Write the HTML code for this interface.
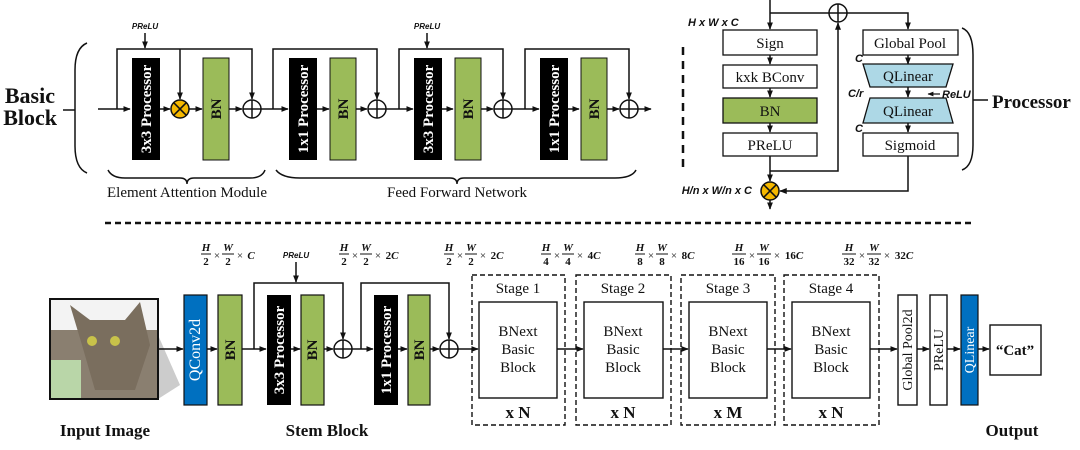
<!DOCTYPE html>
<html><head><meta charset="utf-8"><style>
html,body{margin:0;padding:0;background:#fff;}
svg{display:block;}
.s{font-family:"Liberation Serif",serif;}
.a{font-family:"Liberation Sans",sans-serif;}
</style></head><body>
<svg width="1080" height="450" viewBox="0 0 1080 450" xmlns="http://www.w3.org/2000/svg">
<defs>
<marker id="ar" viewBox="0 0 10 10" refX="9" refY="5" markerWidth="5" markerHeight="5" orient="auto"><path d="M0,1 L10,5 L0,9 z" fill="#111"/></marker>
<g id="plus"><circle r="9" fill="#fff" stroke="#111" stroke-width="1.5"/><path d="M-9,0H9M0,-9V9" stroke="#111" stroke-width="1.5"/></g>
<g id="times"><circle r="9" fill="#f5b800" stroke="#111" stroke-width="1.5"/><path d="M-6.3,-6.3L6.3,6.3M-6.3,6.3L6.3,-6.3" stroke="#111" stroke-width="1.5"/></g>
</defs>
<g stroke="#111" stroke-width="1.5" fill="none">
<!-- ===== Basic block ===== -->
<path d="M63,110H75"/>
<path d="M87,43 Q75,48 75,70 V146 Q75,168 87,173"/>
<path d="M98,109H130" marker-end="url(#ar)"/>
<path d="M160,109H170" marker-end="url(#ar)"/>
<path d="M189,109H202" marker-end="url(#ar)"/>
<path d="M229,109H242" marker-end="url(#ar)"/>
<path d="M261,109H288" marker-end="url(#ar)"/>
<path d="M317,109H329" marker-end="url(#ar)"/>
<path d="M356,109H367" marker-end="url(#ar)"/>
<path d="M386,109H413" marker-end="url(#ar)"/>
<path d="M442,109H453" marker-end="url(#ar)"/>
<path d="M481,109H493" marker-end="url(#ar)"/>
<path d="M512,109H539" marker-end="url(#ar)"/>
<path d="M568,109H579" marker-end="url(#ar)"/>
<path d="M607,109H619" marker-end="url(#ar)"/>
<path d="M638,109H651" marker-end="url(#ar)"/>
<path d="M117,109V49H252V99" marker-end="url(#ar)"/>
<path d="M180,49V99" marker-end="url(#ar)"/>
<path d="M145,33V48" marker-end="url(#ar)"/>
<path d="M273,109V49H377V99" marker-end="url(#ar)"/>
<path d="M399,109V49H503V99" marker-end="url(#ar)"/>
<path d="M427,33V48" marker-end="url(#ar)"/>
<path d="M525,109V49H629V99" marker-end="url(#ar)"/>
<!-- braces -->
<path d="M108,170 Q112,178 125,178 H180 Q187,178 187,184 Q187,178 194,178 H250 Q262,178 265,170"/>
<path d="M276,170 Q282,178 300,178 H450 Q457,178 457,184 Q457,178 464,178 H615 Q632,178 636,170"/>
</g>
<rect x="132" y="58" width="28" height="102" fill="#000"/>
<rect x="203" y="58" width="26" height="102" fill="#9bbb59" stroke="#111" stroke-width="1"/>
<rect x="289" y="58" width="28" height="102" fill="#000"/>
<rect x="330" y="58" width="26" height="102" fill="#9bbb59" stroke="#111" stroke-width="1"/>
<rect x="414" y="58" width="28" height="102" fill="#000"/>
<rect x="455" y="58" width="26" height="102" fill="#9bbb59" stroke="#111" stroke-width="1"/>
<rect x="540" y="58" width="28" height="102" fill="#000"/>
<rect x="581" y="58" width="26" height="102" fill="#9bbb59" stroke="#111" stroke-width="1"/>
<g class="s" font-size="15" font-weight="bold" text-anchor="middle">
<text transform="translate(151,109) rotate(-90)" fill="#fff">3x3 Processor</text>
<text transform="translate(221,109) rotate(-90)" fill="#111">BN</text>
<text transform="translate(308,109) rotate(-90)" fill="#fff">1x1 Processor</text>
<text transform="translate(348,109) rotate(-90)" fill="#111">BN</text>
<text transform="translate(433,109) rotate(-90)" fill="#fff">3x3 Processor</text>
<text transform="translate(473,109) rotate(-90)" fill="#111">BN</text>
<text transform="translate(559,109) rotate(-90)" fill="#fff">1x1 Processor</text>
<text transform="translate(599,109) rotate(-90)" fill="#111">BN</text>
</g>
<use href="#times" x="180" y="109"/>
<use href="#plus" x="252" y="109"/>
<use href="#plus" x="377" y="109"/>
<use href="#plus" x="503" y="109"/>
<use href="#plus" x="629" y="109"/>
<g class="a" font-size="8" font-style="italic" font-weight="bold" text-anchor="middle" fill="#111">
<text x="145" y="29">PReLU</text><text x="427" y="29">PReLU</text>
</g>
<g class="s" font-weight="bold" fill="#111">
<text x="55" y="103" font-size="22" text-anchor="end">Basic</text>
<text x="57" y="125" font-size="22" text-anchor="end">Block</text>
</g>
<g class="s" font-size="15" fill="#111" text-anchor="middle">
<text x="187" y="197">Element Attention Module</text>
<text x="457" y="197">Feed Forward Network</text>
</g>

<!-- ===== Processor detail ===== -->
<g stroke="#111" stroke-width="1.5" fill="none">
<path d="M770,0V29" marker-end="url(#ar)"/>
<path d="M770,13H908V29" marker-end="url(#ar)"/>
<path d="M770,55V64" marker-end="url(#ar)"/>
<path d="M770,88V97" marker-end="url(#ar)"/>
<path d="M770,123V132" marker-end="url(#ar)"/>
<path d="M770,156V181" marker-end="url(#ar)"/>
<path d="M770,171H838V23" marker-end="url(#ar)"/>
<path d="M770,200V209" marker-end="url(#ar)"/>
<path d="M908,55V64" marker-end="url(#ar)"/>
<path d="M908,87V97" marker-end="url(#ar)"/>
<path d="M908,123V132" marker-end="url(#ar)"/>
<path d="M908,156V191H780" marker-end="url(#ar)"/>
<path d="M962,28 Q973,32 973,55 V145 Q973,166 962,170"/>
<path d="M973,100H988"/>
<path d="M683,47V170" stroke-dasharray="8,6" stroke-width="2.5"/>
<path d="M940,94H928" stroke-width="1.2" marker-end="url(#ar)"/>
</g>
<rect x="723" y="30" width="94" height="25" fill="#fff" stroke="#111" stroke-width="1.3"/>
<rect x="723" y="65" width="94" height="23" fill="#fff" stroke="#111" stroke-width="1.3"/>
<rect x="723" y="98" width="94" height="25" fill="#9bbb59" stroke="#111" stroke-width="1.3"/>
<rect x="723" y="133" width="94" height="23" fill="#fff" stroke="#111" stroke-width="1.3"/>
<rect x="863" y="30" width="95" height="25" fill="#fff" stroke="#111" stroke-width="1.3"/>
<path d="M863,64H953L946,87H870Z" fill="#add8e6" stroke="#111" stroke-width="1.3"/>
<path d="M870,98H946L953,123H863Z" fill="#add8e6" stroke="#111" stroke-width="1.3"/>
<rect x="863" y="133" width="95" height="23" fill="#fff" stroke="#111" stroke-width="1.3"/>
<use href="#plus" x="838" y="13"/>
<use href="#times" x="770" y="191"/>
<g class="s" font-size="15" fill="#111" text-anchor="middle">
<text x="770" y="48">Sign</text>
<text x="770" y="82">kxk BConv</text>
<text x="770" y="116">BN</text>
<text x="770" y="150">PReLU</text>
<text x="910" y="48">Global Pool</text>
<text x="908" y="81">QLinear</text>
<text x="908" y="116">QLinear</text>
<text x="910" y="150">Sigmoid</text>
</g>
<g class="a" font-size="11" font-style="italic" font-weight="bold" fill="#111">
<text x="688" y="26">H x W x C</text>
<text x="752" y="194" text-anchor="end">H/n x W/n x C</text>
<text x="855" y="62">C</text>
<text x="848" y="97">C/r</text>
<text x="855" y="132">C</text>
<text x="942" y="98">ReLU</text>
</g>
<text x="992" y="108" class="s" font-size="19" font-weight="bold" fill="#111">Processor</text>

<!-- separator -->
<path d="M105,223H975" stroke="#111" stroke-width="2.5" stroke-dasharray="6,4"/>

<!-- ===== Bottom network ===== -->
<polygon points="158,335 180,385 158,399" fill="#ccc"/>
<rect x="50" y="299" width="108" height="100" fill="#8a7f70" stroke="#111" stroke-width="2"/>
<rect x="51" y="300" width="106" height="30" fill="#f3f3f3"/>
<rect x="51" y="360" width="30" height="38" fill="#b9d6a8"/>
<path d="M70,305 L82,345 L95,390 L135,390 L150,345 L140,302 L125,320 L90,320 Z" fill="#7a6e5e"/>
<circle cx="92" cy="341" r="5" fill="#c8c24a"/><circle cx="115" cy="341" r="5" fill="#c8c24a"/>
<g stroke="#111" stroke-width="1.5" fill="none">
<path d="M158,349H183" marker-end="url(#ar)"/>
<path d="M207,349H217" marker-end="url(#ar)"/>
<path d="M242,349H266" marker-end="url(#ar)"/>
<path d="M291,349H300" marker-end="url(#ar)"/>
<path d="M324,349H333" marker-end="url(#ar)"/>
<path d="M352,349H373" marker-end="url(#ar)"/>
<path d="M398,349H407" marker-end="url(#ar)"/>
<path d="M430,349H439" marker-end="url(#ar)"/>
<path d="M458,349H478" marker-end="url(#ar)"/>
<path d="M254,349V283H343V339" marker-end="url(#ar)"/>
<path d="M296,262V282" marker-end="url(#ar)"/>
<path d="M361,349V283H449V339" marker-end="url(#ar)"/>
<path d="M557,349H583" marker-end="url(#ar)"/>
<path d="M663,349H688" marker-end="url(#ar)"/>
<path d="M767,349H791" marker-end="url(#ar)"/>
<path d="M870,349H897" marker-end="url(#ar)"/>
<path d="M917,349H929" marker-end="url(#ar)"/>
<path d="M947,349H960" marker-end="url(#ar)"/>
<path d="M978,349H989" marker-end="url(#ar)"/>
</g>
<rect x="184" y="295" width="23" height="110" fill="#0070c0" stroke="#111" stroke-width="1.2"/>
<rect x="218" y="295" width="24" height="110" fill="#9bbb59" stroke="#111" stroke-width="1.2"/>
<rect x="267" y="295" width="24" height="110" fill="#000"/>
<rect x="301" y="295" width="23" height="110" fill="#9bbb59" stroke="#111" stroke-width="1.2"/>
<rect x="374" y="295" width="24" height="110" fill="#000"/>
<rect x="408" y="295" width="22" height="110" fill="#9bbb59" stroke="#111" stroke-width="1.2"/>
<use href="#plus" x="343" y="349"/>
<use href="#plus" x="449" y="349"/>
<g class="s" font-size="15" font-weight="bold" text-anchor="middle">
<text transform="translate(200,350) rotate(-90)" fill="#fff" font-weight="normal" font-size="16">QConv2d</text>
<text transform="translate(235,350) rotate(-90)" fill="#111">BN</text>
<text transform="translate(284,350) rotate(-90)" fill="#fff">3x3 Processor</text>
<text transform="translate(317,350) rotate(-90)" fill="#111">BN</text>
<text transform="translate(391,350) rotate(-90)" fill="#fff">1x1 Processor</text>
<text transform="translate(424,350) rotate(-90)" fill="#111">BN</text>
</g>
<g fill="none" stroke="#111" stroke-width="1.4" stroke-dasharray="5,3">
<rect x="472" y="275" width="93" height="150"/>
<rect x="576" y="275" width="95" height="150"/>
<rect x="681" y="275" width="94" height="150"/>
<rect x="784" y="275" width="95" height="150"/>
</g>
<g fill="#fff" stroke="#111" stroke-width="1.4">
<rect x="479" y="302" width="78" height="96"/>
<rect x="584" y="302" width="79" height="96"/>
<rect x="689" y="302" width="78" height="96"/>
<rect x="792" y="302" width="78" height="96"/>
<rect x="898" y="295" width="19" height="110"/>
<rect x="930" y="295" width="17" height="110"/>
<rect x="990" y="325" width="51" height="50"/>
</g>
<rect x="961" y="295" width="17" height="110" fill="#0070c0" stroke="#111" stroke-width="1.2"/>
<g class="s" font-size="15" fill="#111" text-anchor="middle">
<text x="518" y="293">Stage 1</text><text x="623" y="293">Stage 2</text>
<text x="728" y="293">Stage 3</text><text x="831" y="293">Stage 4</text>
<g font-size="15">
<text x="518" y="336">BNext</text><text x="518" y="354">Basic</text><text x="518" y="372">Block</text>
<text x="623" y="336">BNext</text><text x="623" y="354">Basic</text><text x="623" y="372">Block</text>
<text x="728" y="336">BNext</text><text x="728" y="354">Basic</text><text x="728" y="372">Block</text>
<text x="831" y="336">BNext</text><text x="831" y="354">Basic</text><text x="831" y="372">Block</text>
</g>
<g font-size="17" font-weight="bold">
<text x="518" y="418">x N</text><text x="623" y="418">x N</text>
<text x="728" y="418">x M</text><text x="831" y="418">x N</text>
</g>
<text transform="translate(912,350) rotate(-90)" font-size="14">Global Pool2d</text>
<text transform="translate(943,350) rotate(-90)" font-size="14">PReLU</text>
<text transform="translate(974,350) rotate(-90)" font-size="14" fill="#fff">QLinear</text>
<text x="1015" y="355" font-size="15" font-weight="bold">“Cat”</text>
<g font-size="17" font-weight="bold">
<text x="105" y="436">Input Image</text>
<text x="327" y="436">Stem Block</text>
<text x="1012" y="436">Output</text>
</g>
</g>
<text x="296" y="258" class="a" font-size="8" font-style="italic" font-weight="bold" text-anchor="middle" fill="#111">PReLU</text>
<!-- dimension labels -->
<g class="s" font-size="11" font-weight="bold" fill="#111" text-anchor="middle">
<g transform="translate(201,0)"><text x="5" y="251" font-style="italic">H</text><text x="5" y="265">2</text><path d="M0,254H10" stroke="#111"/><text x="16" y="259" font-weight="normal">×</text><text x="27" y="251" font-style="italic">W</text><text x="27" y="265">2</text><path d="M21,254H33" stroke="#111"/><text x="39" y="259" font-weight="normal">×</text><text x="50" y="259" font-style="italic">C</text></g>
<g transform="translate(339,0)"><text x="5" y="251" font-style="italic">H</text><text x="5" y="265">2</text><path d="M0,254H10" stroke="#111"/><text x="16" y="259" font-weight="normal">×</text><text x="27" y="251" font-style="italic">W</text><text x="27" y="265">2</text><path d="M21,254H33" stroke="#111"/><text x="39" y="259" font-weight="normal">×</text><text x="53" y="259">2<tspan font-style="italic">C</tspan></text></g>
<g transform="translate(444,0)"><text x="5" y="251" font-style="italic">H</text><text x="5" y="265">2</text><path d="M0,254H10" stroke="#111"/><text x="16" y="259" font-weight="normal">×</text><text x="27" y="251" font-style="italic">W</text><text x="27" y="265">2</text><path d="M21,254H33" stroke="#111"/><text x="39" y="259" font-weight="normal">×</text><text x="53" y="259">2<tspan font-style="italic">C</tspan></text></g>
<g transform="translate(541,0)"><text x="5" y="251" font-style="italic">H</text><text x="5" y="265">4</text><path d="M0,254H10" stroke="#111"/><text x="16" y="259" font-weight="normal">×</text><text x="27" y="251" font-style="italic">W</text><text x="27" y="265">4</text><path d="M21,254H33" stroke="#111"/><text x="39" y="259" font-weight="normal">×</text><text x="53" y="259">4<tspan font-style="italic">C</tspan></text></g>
<g transform="translate(635,0)"><text x="5" y="251" font-style="italic">H</text><text x="5" y="265">8</text><path d="M0,254H10" stroke="#111"/><text x="16" y="259" font-weight="normal">×</text><text x="27" y="251" font-style="italic">W</text><text x="27" y="265">8</text><path d="M21,254H33" stroke="#111"/><text x="39" y="259" font-weight="normal">×</text><text x="53" y="259">8<tspan font-style="italic">C</tspan></text></g>
<g transform="translate(732,0)"><text x="7" y="251" font-style="italic">H</text><text x="7" y="265">16</text><path d="M0,254H14" stroke="#111"/><text x="20" y="259" font-weight="normal">×</text><text x="32" y="251" font-style="italic">W</text><text x="32" y="265">16</text><path d="M25,254H39" stroke="#111"/><text x="45" y="259" font-weight="normal">×</text><text x="62" y="259">16<tspan font-style="italic">C</tspan></text></g>
<g transform="translate(842,0)"><text x="7" y="251" font-style="italic">H</text><text x="7" y="265">32</text><path d="M0,254H14" stroke="#111"/><text x="20" y="259" font-weight="normal">×</text><text x="32" y="251" font-style="italic">W</text><text x="32" y="265">32</text><path d="M25,254H39" stroke="#111"/><text x="45" y="259" font-weight="normal">×</text><text x="62" y="259">32<tspan font-style="italic">C</tspan></text></g>
</g>
</svg>
</body></html>
